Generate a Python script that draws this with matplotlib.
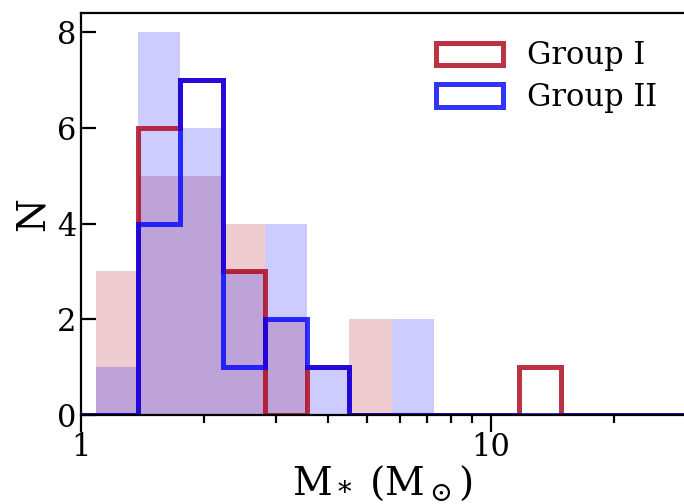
import numpy as np
import matplotlib.pyplot as plt
from matplotlib.patches import Patch

plt.rcParams['font.family'] = 'DejaVu Serif'
plt.rcParams['mathtext.fontset'] = 'dejavuserif'

# logarithmic mass bins (0.1033 dex wide)
log_start = 0.0356
log_width = 0.1033
edges = 10**(log_start + log_width*np.arange(0, 9))
step_edges = 10**(log_start + log_width*np.arange(-2, 16))

# filled histograms (N per bin)
fill_g1 = [3, 5, 5, 4, 2, 0, 2, 0]
fill_g2 = [1, 8, 6, 3, 4, 1, 0, 2]

# outlined histograms (N per bin)
step_g1 = [0, 0, 0, 6, 7, 3, 0, 1, 0, 0, 0, 0, 1, 0, 0, 0, 0]
step_g2 = [0, 0, 0, 4, 7, 1, 2, 1, 0, 0, 0, 0, 0, 0, 0, 0, 0]

c1 = '#ae0014'
c2 = '#0000ff'
lw = 3.6

fig = plt.figure(figsize=(6.84, 5.04), dpi=100)
ax = fig.add_axes([81/684., 89/504., 604/684., 402/504.])

ax.stairs(fill_g1, edges, fill=True, color=c1, alpha=0.2, lw=0)
ax.stairs(fill_g2, edges, fill=True, color=c2, alpha=0.2, lw=0)
ax.stairs(step_g1, step_edges, color=c1, alpha=0.8, lw=lw)
ax.stairs(step_g2, step_edges, color=c2, alpha=0.8, lw=lw)

ax.set_xscale('log')
ax.set_xlim(1, 10**(604/409.6))
ax.set_ylim(0, 8.4)
ax.set_yticks([0, 2, 4, 6, 8])
ax.set_xticks([1, 10])
ax.set_xticklabels(['1', '10'])

for s in ax.spines.values():
    s.set_linewidth(1.6)
ax.spines['right'].set_visible(False)

ax.tick_params(axis='y', direction='in', length=11, width=1.6, labelsize=22, pad=3)
ax.tick_params(axis='x', which='major', direction='out', length=12, width=1.6, labelsize=22, pad=0.5)
ax.tick_params(axis='x', which='minor', direction='out', length=6, width=1.6, labelbottom=False)

ax.set_xlabel(r'M$_*$ (M$_\odot$)', fontsize=28, labelpad=0)
ax.set_ylabel('N', fontsize=28, labelpad=4)

handles = [Patch(facecolor='none', edgecolor=c1, lw=lw, alpha=0.8, label='Group I'),
           Patch(facecolor='none', edgecolor=c2, lw=lw, alpha=0.8, label='Group II')]
ax.legend(handles=handles, loc='upper right', frameon=False, fontsize=22,
          bbox_to_anchor=(1.0, 1.0), handlelength=2.2, handleheight=0.75,
          labelspacing=0.35)

fig.savefig('out.png', dpi=100)
